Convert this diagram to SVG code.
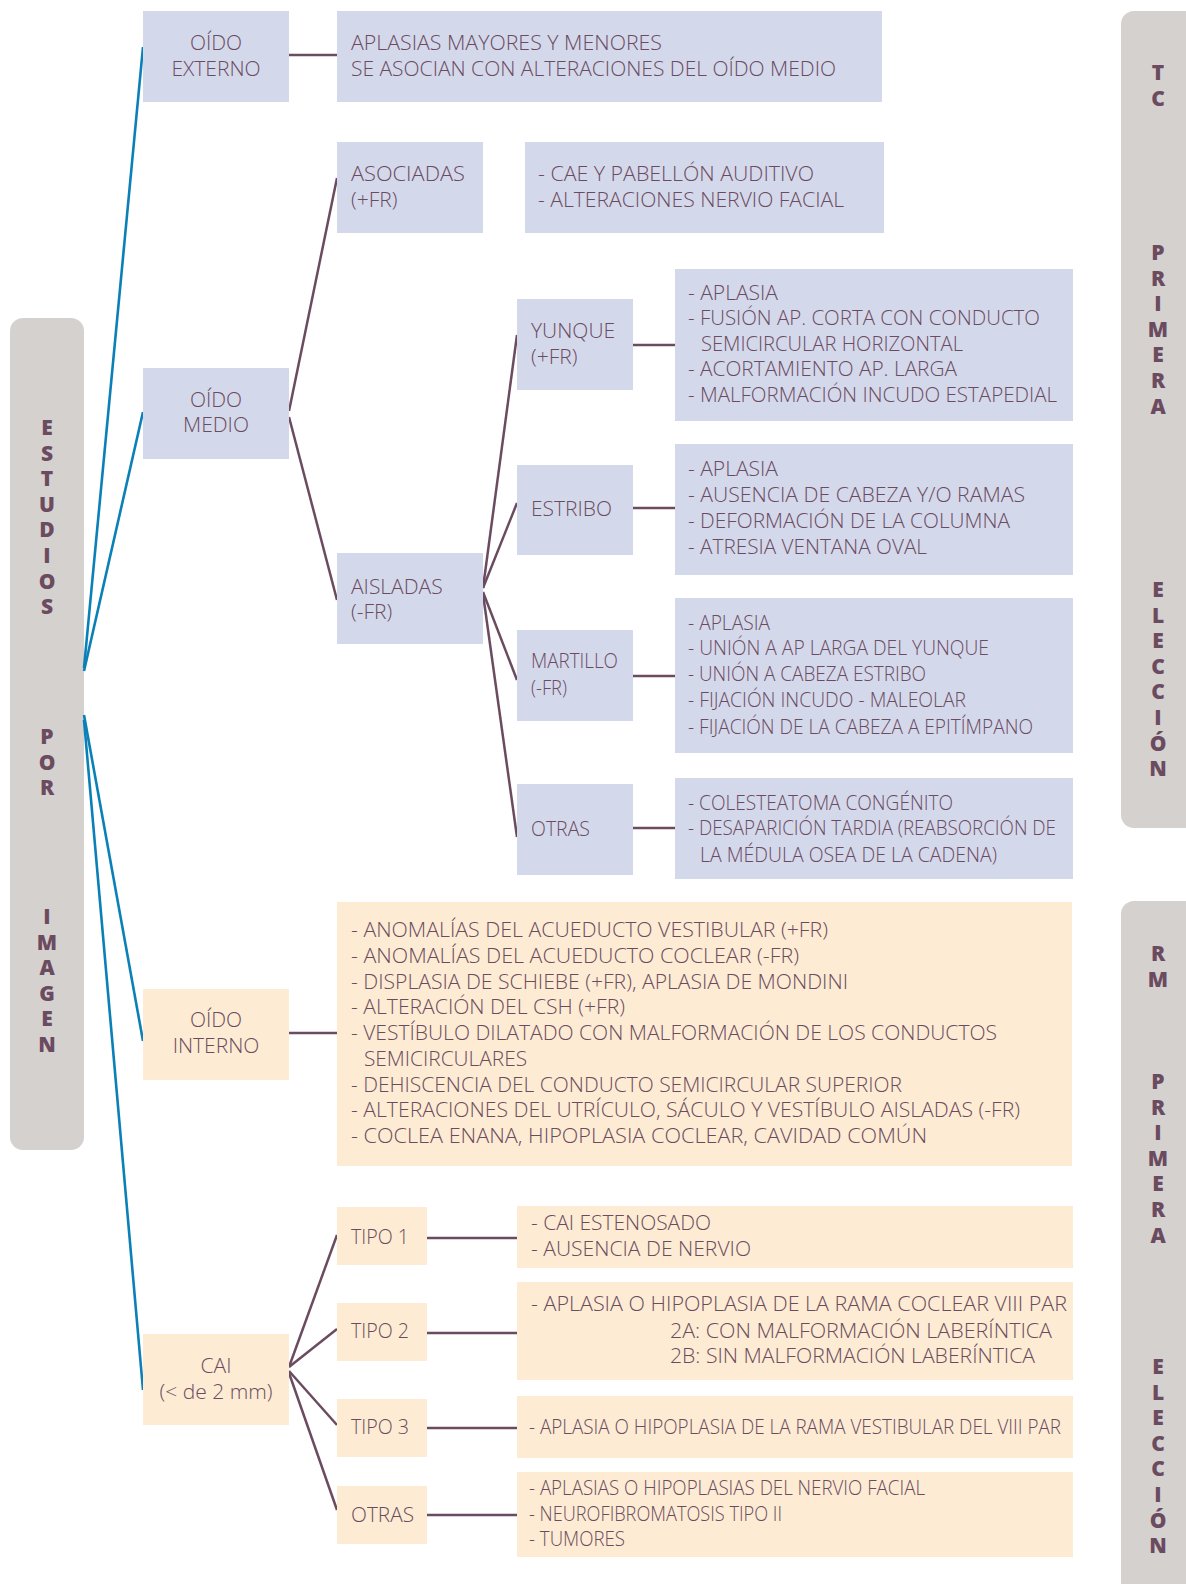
<svg xmlns="http://www.w3.org/2000/svg" width="1186" height="1584" viewBox="0 0 1186 1584">
<style>
.lav{fill:#D4D8EB}
.pch{fill:#FDEBD3}
.bar{fill:#D5D1CF}
.t{font-family:"Open Sans","Noto Sans","Liberation Sans",sans-serif;font-weight:300;font-size:21px;fill:#6B4B5F}
.c{text-anchor:middle}
.v{font-family:"Open Sans","Noto Sans","Liberation Sans",sans-serif;font-weight:800;font-size:21px;fill:#6B4B5F;text-anchor:middle}
.pl{stroke:#6B4B5F;stroke-width:2.5;fill:none}
.bl{stroke:#0A80B6;stroke-width:2.6;fill:none}
</style>
<rect width="1186" height="1584" fill="#FFFFFF"/>

<g id="bar-left">
<rect class="bar" x="10" y="318" width="74" height="832" rx="13"/>
<text class="v"><tspan x="47" y="435">E</tspan><tspan x="47" y="460.6">S</tspan><tspan x="47" y="486.2">T</tspan><tspan x="47" y="511.8">U</tspan><tspan x="47" y="537.4">D</tspan><tspan x="47" y="563">I</tspan><tspan x="47" y="588.6">O</tspan><tspan x="47" y="614.2">S</tspan><tspan x="47" y="744">P</tspan><tspan x="47" y="769.6">O</tspan><tspan x="47" y="795.2">R</tspan><tspan x="47" y="924">I</tspan><tspan x="47" y="949.6">M</tspan><tspan x="47" y="975.2">A</tspan><tspan x="47" y="1000.8">G</tspan><tspan x="47" y="1026.4">E</tspan><tspan x="47" y="1052">N</tspan></text>
</g>

<g id="bar-tc">
<rect class="bar" x="1121" y="11" width="90" height="817" rx="13"/>
<text class="v"><tspan x="1158" y="80">T</tspan><tspan x="1158" y="105.6">C</tspan><tspan x="1158" y="260">P</tspan><tspan x="1158" y="285.6">R</tspan><tspan x="1158" y="311.2">I</tspan><tspan x="1158" y="336.8">M</tspan><tspan x="1158" y="362.4">E</tspan><tspan x="1158" y="388">R</tspan><tspan x="1158" y="413.6">A</tspan><tspan x="1158" y="597">E</tspan><tspan x="1158" y="622.6">L</tspan><tspan x="1158" y="648.2">E</tspan><tspan x="1158" y="673.8">C</tspan><tspan x="1158" y="699.4">C</tspan><tspan x="1158" y="725">I</tspan><tspan x="1158" y="750.6">Ó</tspan><tspan x="1158" y="776.2">N</tspan></text>
</g>

<g id="bar-rm">
<rect class="bar" x="1121" y="901" width="90" height="720" rx="13"/>
<text class="v"><tspan x="1158" y="961">R</tspan><tspan x="1158" y="986.6">M</tspan><tspan x="1158" y="1089">P</tspan><tspan x="1158" y="1114.6">R</tspan><tspan x="1158" y="1140.2">I</tspan><tspan x="1158" y="1165.8">M</tspan><tspan x="1158" y="1191.4">E</tspan><tspan x="1158" y="1217">R</tspan><tspan x="1158" y="1242.6">A</tspan><tspan x="1158" y="1374">E</tspan><tspan x="1158" y="1399.6">L</tspan><tspan x="1158" y="1425.2">E</tspan><tspan x="1158" y="1450.8">C</tspan><tspan x="1158" y="1476.4">C</tspan><tspan x="1158" y="1502">I</tspan><tspan x="1158" y="1527.6">Ó</tspan><tspan x="1158" y="1553.2">N</tspan></text>
</g>

<g id="connectors">
<line class="bl" x1="84" y1="668" x2="143" y2="47"/>
<line class="bl" x1="84" y1="671" x2="143" y2="412"/>
<line class="bl" x1="84" y1="715" x2="143" y2="1041"/>
<line class="bl" x1="84" y1="720" x2="143" y2="1390"/>
<line class="pl" x1="289" y1="55" x2="337" y2="55"/>
<line class="pl" x1="289" y1="411" x2="337" y2="178"/>
<line class="pl" x1="289" y1="417" x2="337" y2="600"/>
<line class="pl" x1="483" y1="588" x2="517" y2="335"/>
<line class="pl" x1="483" y1="588" x2="517" y2="503"/>
<line class="pl" x1="483" y1="592" x2="517" y2="680"/>
<line class="pl" x1="483" y1="594" x2="517" y2="837"/>
<line class="pl" x1="633" y1="345" x2="675" y2="345"/>
<line class="pl" x1="633" y1="508" x2="675" y2="508"/>
<line class="pl" x1="633" y1="676" x2="675" y2="676"/>
<line class="pl" x1="633" y1="828" x2="675" y2="828"/>
<line class="pl" x1="289" y1="1033" x2="337" y2="1033"/>
<line class="pl" x1="289" y1="1367" x2="337" y2="1235"/>
<line class="pl" x1="289" y1="1367" x2="337" y2="1329"/>
<line class="pl" x1="289" y1="1371" x2="337" y2="1425"/>
<line class="pl" x1="289" y1="1373" x2="337" y2="1510"/>
<line class="pl" x1="427" y1="1238" x2="517" y2="1238"/>
<line class="pl" x1="427" y1="1333" x2="517" y2="1333"/>
<line class="pl" x1="427" y1="1428" x2="517" y2="1428"/>
<line class="pl" x1="427" y1="1515" x2="517" y2="1515"/>
</g>

<g id="oido-externo">
<rect class="lav" x="143" y="11" width="146" height="91"/>
<text class="t c" x="216" y="50">OÍDO</text>
<text class="t c" x="216" y="76">EXTERNO</text>
</g>
<g id="externo-desc">
<rect class="lav" x="337" y="11" width="545" height="91"/>
<text class="t" x="351" y="50" textLength="311" lengthAdjust="spacingAndGlyphs">APLASIAS MAYORES Y MENORES</text>
<text class="t" x="351" y="76" textLength="485" lengthAdjust="spacingAndGlyphs">SE ASOCIAN CON ALTERACIONES DEL OÍDO MEDIO</text>
</g>

<g id="oido-medio">
<rect class="lav" x="143" y="368" width="146" height="91"/>
<text class="t c" x="216" y="407">OÍDO</text>
<text class="t c" x="216" y="432">MEDIO</text>
</g>
<g id="asociadas">
<rect class="lav" x="337" y="142" width="146" height="91"/>
<text class="t" x="351" y="181" textLength="114" lengthAdjust="spacingAndGlyphs">ASOCIADAS</text>
<text class="t" x="351" y="207">(+FR)</text>
</g>
<g id="asociadas-desc">
<rect class="lav" x="525" y="142" width="359" height="91"/>
<text class="t" x="538" y="181" textLength="276" lengthAdjust="spacingAndGlyphs">- CAE Y PABELLÓN AUDITIVO</text>
<text class="t" x="538" y="207" textLength="306" lengthAdjust="spacingAndGlyphs">- ALTERACIONES NERVIO FACIAL</text>
</g>
<g id="aisladas">
<rect class="lav" x="337" y="553" width="146" height="91"/>
<text class="t" x="351" y="594">AISLADAS</text>
<text class="t" x="351" y="619">(-FR)</text>
</g>

<g id="yunque">
<rect class="lav" x="517" y="299" width="116" height="91"/>
<text class="t" x="531" y="338">YUNQUE</text>
<text class="t" x="531" y="364">(+FR)</text>
</g>
<g id="yunque-desc">
<rect class="lav" x="675" y="269" width="398" height="152"/>
<text class="t" x="688" y="300" textLength="90" lengthAdjust="spacingAndGlyphs">- APLASIA</text>
<text class="t" x="688" y="325" textLength="352" lengthAdjust="spacingAndGlyphs">- FUSIÓN AP. CORTA CON CONDUCTO</text>
<text class="t" x="701" y="351" textLength="262" lengthAdjust="spacingAndGlyphs">SEMICIRCULAR HORIZONTAL</text>
<text class="t" x="688" y="376" textLength="269" lengthAdjust="spacingAndGlyphs">- ACORTAMIENTO AP. LARGA</text>
<text class="t" x="688" y="402" textLength="369" lengthAdjust="spacingAndGlyphs">- MALFORMACIÓN INCUDO ESTAPEDIAL</text>
</g>

<g id="estribo">
<rect class="lav" x="517" y="465" width="116" height="90"/>
<text class="t" x="531" y="516">ESTRIBO</text>
</g>
<g id="estribo-desc">
<rect class="lav" x="675" y="444" width="398" height="131"/>
<text class="t" x="688" y="476" textLength="90" lengthAdjust="spacingAndGlyphs">- APLASIA</text>
<text class="t" x="688" y="502" textLength="337" lengthAdjust="spacingAndGlyphs">- AUSENCIA DE CABEZA Y/O RAMAS</text>
<text class="t" x="688" y="528" textLength="322" lengthAdjust="spacingAndGlyphs">- DEFORMACIÓN DE LA COLUMNA</text>
<text class="t" x="688" y="554" textLength="239" lengthAdjust="spacingAndGlyphs">- ATRESIA VENTANA OVAL</text>
</g>

<g id="martillo">
<rect class="lav" x="517" y="630" width="116" height="91"/>
<text class="t" x="531" y="668" textLength="87" lengthAdjust="spacingAndGlyphs">MARTILLO</text>
<text class="t" x="531" y="695" textLength="36" lengthAdjust="spacingAndGlyphs">(-FR)</text>
</g>
<g id="martillo-desc">
<rect class="lav" x="675" y="598" width="398" height="155"/>
<text class="t" x="688" y="630" textLength="82" lengthAdjust="spacingAndGlyphs">- APLASIA</text>
<text class="t" x="688" y="655" textLength="301" lengthAdjust="spacingAndGlyphs">- UNIÓN A AP LARGA DEL YUNQUE</text>
<text class="t" x="688" y="681" textLength="238" lengthAdjust="spacingAndGlyphs">- UNIÓN A CABEZA ESTRIBO</text>
<text class="t" x="688" y="707" textLength="278" lengthAdjust="spacingAndGlyphs">- FIJACIÓN INCUDO - MALEOLAR</text>
<text class="t" x="688" y="734" textLength="345" lengthAdjust="spacingAndGlyphs">- FIJACIÓN DE LA CABEZA A EPITÍMPANO</text>
</g>

<g id="otras-medio">
<rect class="lav" x="517" y="784" width="116" height="91"/>
<text class="t" x="531" y="836" textLength="59" lengthAdjust="spacingAndGlyphs">OTRAS</text>
</g>
<g id="otras-medio-desc">
<rect class="lav" x="675" y="778" width="398" height="101"/>
<text class="t" x="688" y="810" textLength="265" lengthAdjust="spacingAndGlyphs">- COLESTEATOMA CONGÉNITO</text>
<text class="t" x="688" y="835" textLength="368" lengthAdjust="spacingAndGlyphs">- DESAPARICIÓN TARDIA (REABSORCIÓN DE</text>
<text class="t" x="700" y="862" textLength="297" lengthAdjust="spacingAndGlyphs">LA MÉDULA OSEA DE LA CADENA)</text>
</g>

<g id="oido-interno">
<rect class="pch" x="143" y="989" width="146" height="91"/>
<text class="t c" x="216" y="1027">OÍDO</text>
<text class="t c" x="216" y="1053">INTERNO</text>
</g>
<g id="interno-desc">
<rect class="pch" x="337" y="902" width="735" height="264"/>
<text class="t" x="351" y="937" textLength="477" lengthAdjust="spacingAndGlyphs">- ANOMALÍAS DEL ACUEDUCTO VESTIBULAR (+FR)</text>
<text class="t" x="351" y="962.75" textLength="448" lengthAdjust="spacingAndGlyphs">- ANOMALÍAS DEL ACUEDUCTO COCLEAR (-FR)</text>
<text class="t" x="351" y="988.5" textLength="497" lengthAdjust="spacingAndGlyphs">- DISPLASIA DE SCHIEBE (+FR), APLASIA DE MONDINI</text>
<text class="t" x="351" y="1014.25" textLength="274" lengthAdjust="spacingAndGlyphs">- ALTERACIÓN DEL CSH (+FR)</text>
<text class="t" x="351" y="1040" textLength="646" lengthAdjust="spacingAndGlyphs">- VESTÍBULO DILATADO CON MALFORMACIÓN DE LOS CONDUCTOS</text>
<text class="t" x="364" y="1065.75" textLength="163" lengthAdjust="spacingAndGlyphs">SEMICIRCULARES</text>
<text class="t" x="351" y="1091.5" textLength="551" lengthAdjust="spacingAndGlyphs">- DEHISCENCIA DEL CONDUCTO SEMICIRCULAR SUPERIOR</text>
<text class="t" x="351" y="1117.25" textLength="669" lengthAdjust="spacingAndGlyphs">- ALTERACIONES DEL UTRÍCULO, SÁCULO Y VESTÍBULO AISLADAS (-FR)</text>
<text class="t" x="351" y="1143" textLength="576" lengthAdjust="spacingAndGlyphs">- COCLEA ENANA, HIPOPLASIA COCLEAR, CAVIDAD COMÚN</text>
</g>

<g id="cai">
<rect class="pch" x="143" y="1334" width="146" height="91"/>
<text class="t c" x="216" y="1373">CAI</text>
<text class="t c" x="216" y="1399">(&lt; de 2 mm)</text>
</g>
<g id="tipo1">
<rect class="pch" x="337" y="1207" width="90" height="58"/>
<text class="t" x="351" y="1244" textLength="58" lengthAdjust="spacingAndGlyphs">TIPO 1</text>
</g>
<g id="tipo1-desc">
<rect class="pch" x="517" y="1206" width="556" height="62"/>
<text class="t" x="531" y="1230" textLength="180" lengthAdjust="spacingAndGlyphs">- CAI ESTENOSADO</text>
<text class="t" x="531" y="1256" textLength="220" lengthAdjust="spacingAndGlyphs">- AUSENCIA DE NERVIO</text>
</g>
<g id="tipo2">
<rect class="pch" x="337" y="1303" width="90" height="58"/>
<text class="t" x="351" y="1338" textLength="58" lengthAdjust="spacingAndGlyphs">TIPO 2</text>
</g>
<g id="tipo2-desc">
<rect class="pch" x="517" y="1282" width="556" height="98"/>
<text class="t" x="531" y="1311" textLength="536" lengthAdjust="spacingAndGlyphs">- APLASIA O HIPOPLASIA DE LA RAMA COCLEAR VIII PAR</text>
<text class="t" x="670" y="1338" textLength="382" lengthAdjust="spacingAndGlyphs">2A: CON MALFORMACIÓN LABERÍNTICA</text>
<text class="t" x="670" y="1363" textLength="365" lengthAdjust="spacingAndGlyphs">2B: SIN MALFORMACIÓN LABERÍNTICA</text>
</g>
<g id="tipo3">
<rect class="pch" x="337" y="1399" width="90" height="58"/>
<text class="t" x="351" y="1434" textLength="58" lengthAdjust="spacingAndGlyphs">TIPO 3</text>
</g>
<g id="tipo3-desc">
<rect class="pch" x="517" y="1396" width="556" height="62"/>
<text class="t" x="529" y="1434" textLength="532" lengthAdjust="spacingAndGlyphs">- APLASIA O HIPOPLASIA DE LA RAMA VESTIBULAR DEL VIII PAR</text>
</g>
<g id="otras-cai">
<rect class="pch" x="337" y="1486" width="90" height="58"/>
<text class="t" x="351" y="1522" textLength="63" lengthAdjust="spacingAndGlyphs">OTRAS</text>
</g>
<g id="otras-cai-desc">
<rect class="pch" x="517" y="1472" width="556" height="85"/>
<text class="t" x="529" y="1495" textLength="396" lengthAdjust="spacingAndGlyphs">- APLASIAS O HIPOPLASIAS DEL NERVIO FACIAL</text>
<text class="t" x="529" y="1521" textLength="253" lengthAdjust="spacingAndGlyphs">- NEUROFIBROMATOSIS TIPO II</text>
<text class="t" x="529" y="1546" textLength="96" lengthAdjust="spacingAndGlyphs">- TUMORES</text>
</g>
</svg>
